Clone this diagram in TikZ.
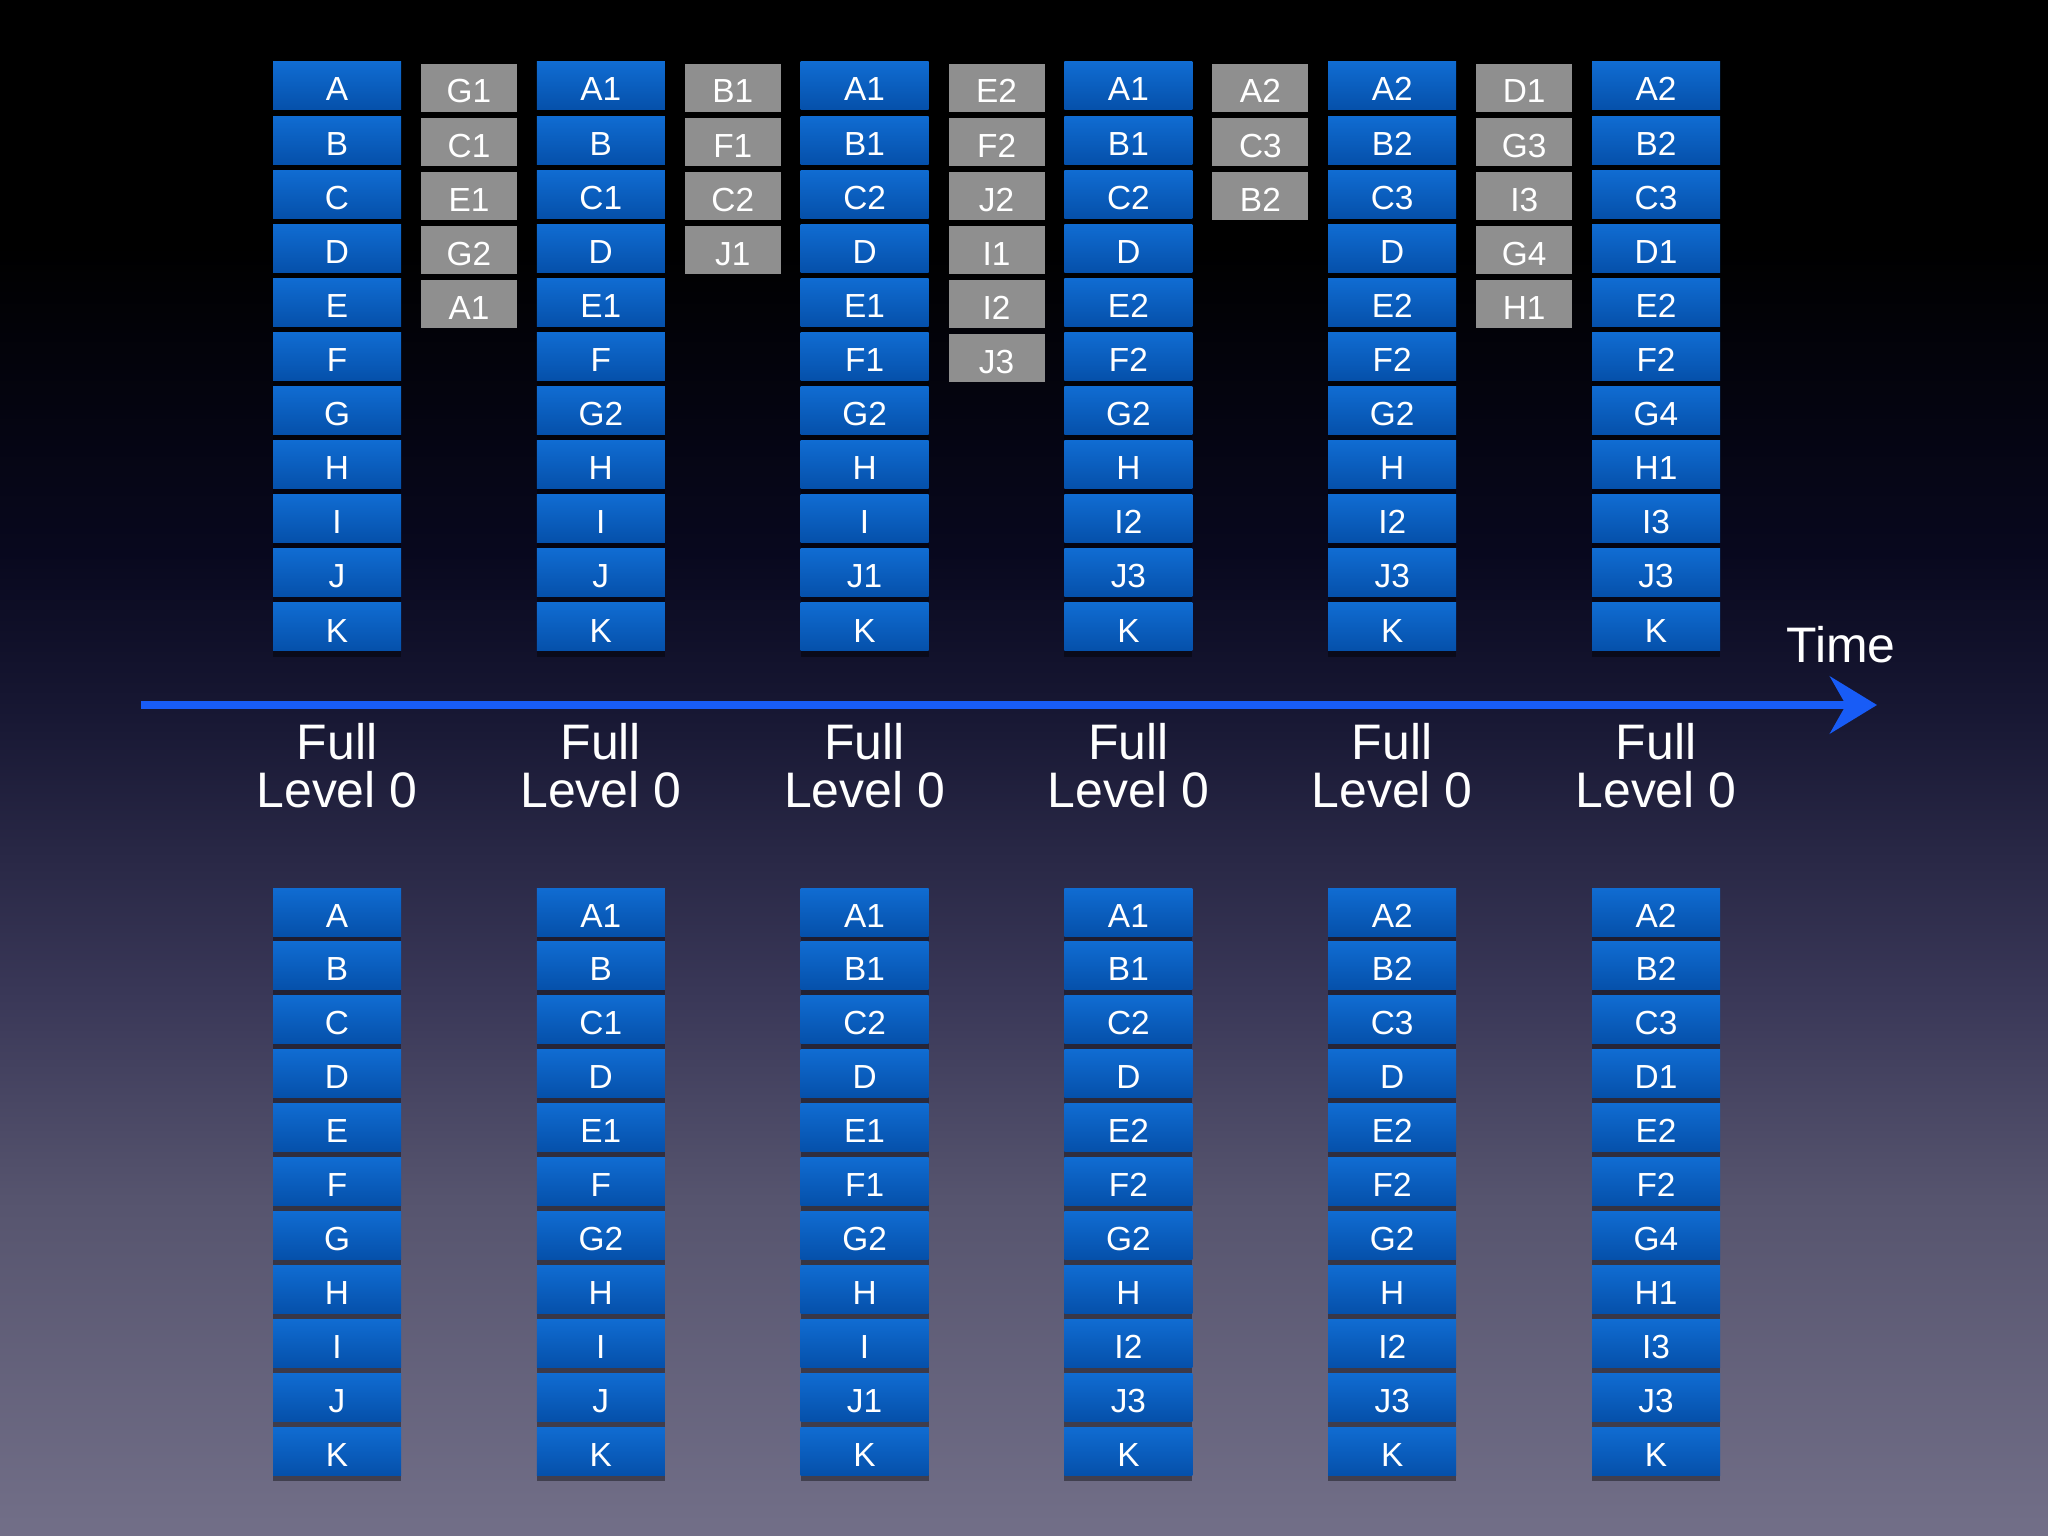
\documentclass[tikz,border=0pt]{standalone}
\usepackage{fontspec}
\setmainfont{Liberation Sans}
\usepackage{xcolor}
\usetikzlibrary{arrows.meta, shadows}
\definecolor{bgbot}{RGB}{114,111,136}
\definecolor{bglow}{RGB}{86,84,110}
\definecolor{bgmid}{RGB}{58,56,88}
\definecolor{bgnavy}{RGB}{24,24,52}
\definecolor{bgdeep}{RGB}{8,8,30}
\definecolor{boxtop}{RGB}{16,108,210}
\definecolor{boxbot}{RGB}{5,80,170}
\definecolor{oldgray}{RGB}{143,143,143}
\definecolor{timeblue}{RGB}{24,92,246}
\pgfdeclareverticalshading{backdrop}{100bp}{color(0bp)=(bgbot); color(25bp)=(bgbot); color(36bp)=(bglow); color(42.5bp)=(bgmid); color(51.6bp)=(bgnavy); color(57bp)=(bgdeep); color(67bp)=(black); color(100bp)=(black)}
\tikzstyle{keybox} = [rectangle, minimum width=1.28cm, minimum height=0.48cm, inner sep=0pt, text height=0.3cm, text depth=0pt, text=white, font=\fontsize{9.5}{10}\selectfont]
\tikzstyle{live} = [keybox, top color=boxtop, bottom color=boxbot, drop shadow={fill=black, opacity=0.4, shadow xshift=0pt, shadow yshift=-0.6mm}]
\tikzstyle{stale} = [keybox, minimum width=0.96cm, fill=oldgray]
\tikzstyle{caption} = [text=white, align=center, anchor=base, font=\fontsize{14.2}{13.8}\selectfont]
\tikzstyle{arrow} = [line width=0.75mm, draw=timeblue, -{Stealth[length=4.7mm, width=5.7mm, inset=1.6mm]}]

\begin{document}
\begin{tikzpicture}
	\useasboundingbox (0,0) rectangle (20.48,-15.36);
	\shade [shading=backdrop] (0,0) rectangle (20.48,-15.36);

	% table after each merge, shown twice
	\foreach \col [count=\c] in {{A,B,C,D,E,F,G,H,I,J,K},{A1,B,C1,D,E1,F,G2,H,I,J,K},{A1,B1,C2,D,E1,F1,G2,H,I,J1,K},{A1,B1,C2,D,E2,F2,G2,H,I2,J3,K},{A2,B2,C3,D,E2,F2,G2,H,I2,J3,K},{A2,B2,C3,D1,E2,F2,G4,H1,I3,J3,K}} {
		\foreach \lab [count=\r] in \col {
			\node (top-\c-\r) [live] at ({3.37+2.638*(\c-1)},{-0.86-0.541*(\r-1)}) {\lab};
			\node (bot-\c-\r) [live] at ({3.37+2.638*(\c-1)},{-9.12-0.539*(\r-1)}) {\lab};
		}
		\node (full-\c) [caption] at ({3.37+2.638*(\c-1)},-8.08) {Full\\Level 0};
	}

	% updates between the merges
	\foreach \col [count=\c] in {{G1,C1,E1,G2,A1},{B1,F1,C2,J1},{E2,F2,J2,I1,I2,J3},{A2,C3,B2},{D1,G3,I3,G4,H1}} {
		\foreach \lab [count=\r] in \col {
			\node (old-\c-\r) [stale] at ({4.69+2.638*(\c-1)},{-0.88-0.541*(\r-1)}) {\lab};
		}
	}

	\coordinate (tstart) at (1.41,-7.05);
	\coordinate (tend) at (18.77,-7.05);
	\node (time) [caption] at (18.41,-6.63) {Time};
	\draw [arrow] (tstart) -- (tend);
\end{tikzpicture}
\end{document}
